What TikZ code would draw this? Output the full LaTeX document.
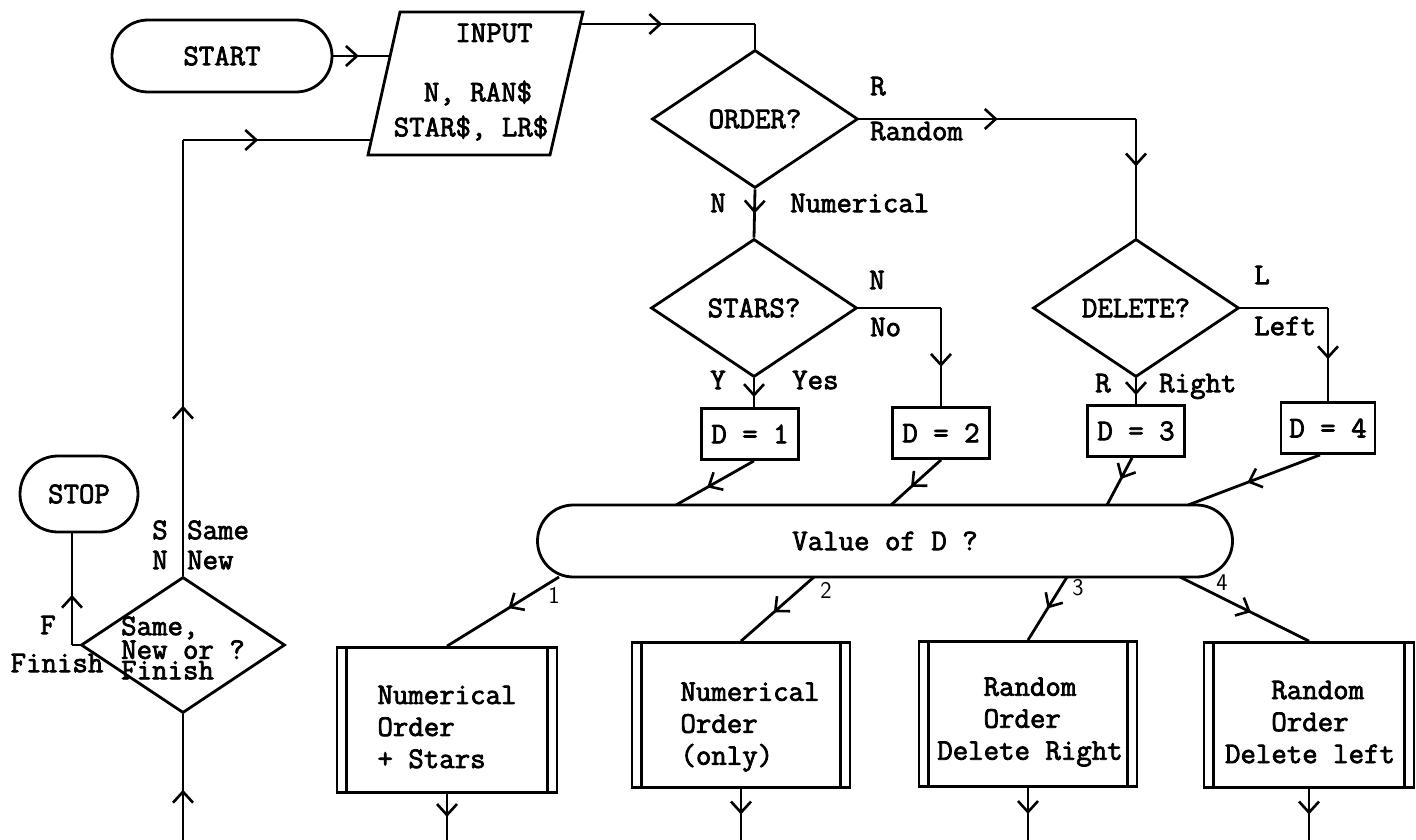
\documentclass[tikz,border=0pt]{standalone}
\usepackage{fontspec}
\newfontfamily\tw{Latin Modern Mono}[FakeBold=2.5]
\usetikzlibrary{shapes.geometric,arrows.meta,decorations.markings}
\tikzset{
  ln/.style={line width=2.8pt},
  midarr/.style={postaction={decorate},decoration={markings,mark=at position #1 with {\arrow{Straight Barb[length=11pt,width=20pt,line width=2.6pt]}}}},
  midarr/.default=0.5,
  term/.style={draw,ln,rounded corners=36pt,inner sep=0pt},
  dia/.style={draw,ln,diamond,inner sep=0pt,minimum width=206pt,minimum height=138pt},
  dbox/.style={draw,ln,rectangle,inner sep=0pt,minimum width=97pt,minimum height=51pt},
  proc/.style={draw,ln,rectangle,inner sep=0pt,minimum height=145pt},
  txt/.style={inner sep=0pt},
  lbl/.style={inner sep=0pt,anchor=mid},
  hand/.style={inner sep=0pt,font=\sffamily\fontsize{24}{24}\selectfont},
}
\begin{document}
\begin{tikzpicture}[x=1pt,y=-1pt,font=\tw\fontsize{30}{32}\selectfont]
\fill[white] (0,0) rectangle (1416,840);
\useasboundingbox (0,0) rectangle (1416,840);

% terminals
\node[term,minimum width=220pt,minimum height=72pt] (start) at (222,56) {START};
\node[term,minimum width=118pt,minimum height=76pt,rounded corners=38pt] (stop) at (79,494) {STOP};

% input parallelogram
\coordinate (iTL) at (400,12);
\coordinate (iTR) at (583,12);
\coordinate (iBR) at (550,155);
\coordinate (iBL) at (368,155);
\draw[ln] (iTL) -- (iTR) -- (iBR) -- (iBL) -- cycle;
\node[txt] (inT) at (494,33) {INPUT};
\node[txt] (inA) at (478,93) {N, RAN\$};
\node[txt] (inB) at (471,128) {STAR\$, LR\$};
\coordinate (inL) at (390,56);
\coordinate (inR) at (580,24);
\coordinate (inLoop) at (371,140);

% decisions
\node[dia] (order) at (755,119) {ORDER?};
\node[dia] (stars) at (754,308) {STARS?};
\node[dia] (del) at (1136,308) {DELETE?};
\node[dia,minimum width=204pt,minimum height=136pt] (sd) at (183,645) {};
\node[txt,align=left,anchor=west,font=\tw\fontsize{30}{20.5}\selectfont] (sdt) at (121,648) {Same,\\New or ?\\Finish};

% D boxes
\node[dbox] (d1) at (750,434) {D = 1};
\node[dbox] (d2) at (941,433) {D = 2};
\node[dbox] (d3) at (1136,431) {D = 3};
\node[dbox,minimum width=94pt] (d4) at (1328,428) {D = 4};

% value of D
\node[term,minimum width=695pt,minimum height=72pt] (val) at (885,541) {Value of D ?};

% process boxes
\node[proc,minimum width=220pt] (p1) at (447,720) {};
\node[proc,minimum width=218pt] (p2) at (741,715) {};
\node[proc,minimum width=218pt] (p3) at (1028,714) {};
\node[proc,minimum width=210pt] (p4) at (1309,715) {};
\foreach \p in {p1,p2,p3,p4} {
  \draw[ln] ([xshift=11pt]\p.north west) -- ([xshift=11pt]\p.south west);
  \draw[ln] ([xshift=-11pt]\p.north east) -- ([xshift=-11pt]\p.south east);
}
\node[txt,align=left] (p1t) at (447,727) {Numerical\\Order\\+ Stars};
\node[txt,align=left] (p2t) at (750,727) {Numerical\\Order\\(only)};
\node[txt,align=left] (p3t) at (1030,722) {\hphantom{xxx}Random\\\hphantom{xxx}Order\\Delete Right};
\node[txt,align=left] (p4t) at (1310,722) {\hphantom{xxx}Random\\\hphantom{xxx}Order\\Delete left};

% connectors top
\draw[ln,midarr=0.45] (start.east) -- (inL);
\coordinate (oT) at (order.north |- inR);
\draw[ln,midarr=0.47] (inR) -- (oT);
\draw[ln] (oT) -- (order.north);
\draw[ln,midarr] (order.south) -- (stars.north);
\coordinate (oR) at (del.north |- order.east);
\draw[ln,midarr] (order.east) -- (oR);
\draw[ln,midarr=0.4] (oR) -- (del.north);
\draw[ln,midarr=0.65] (stars.south) -- (stars.south |- d1.north);
\coordinate (sR) at (d2.north |- stars.east);
\draw[ln] (stars.east) -- (sR);
\draw[ln,midarr=0.6] (sR) -- (d2.north);
\draw[ln,midarr=0.65] (del.south) -- (del.south |- d3.north);
\coordinate (dR) at (d4.north |- del.east);
\draw[ln] (del.east) -- (dR);
\draw[ln,midarr=0.55] (dR) -- (d4.north);

% D boxes to value of D
\coordinate (v1) at (676,505);
\coordinate (v2) at (891,505);
\coordinate (v3) at (1107,505);
\coordinate (v4) at (1188,505);
\draw[ln,midarr=0.6] ([xshift=4pt]d1.south) -- (v1);
\draw[ln,midarr=0.6] (d2.south) -- (v2);
\draw[ln,midarr=0.45] ([xshift=-4pt]d3.south) -- (v3);
\draw[ln,midarr=0.55] ([xshift=-8pt]d4.south) -- (v4);

% value of D to processes
\coordinate (c1) at (559,577);
\coordinate (c2) at (814,577);
\coordinate (c3) at (1067,577);
\coordinate (c4) at (1180,577);
\draw[ln,midarr=0.45] (c1) -- (p1.north);
\draw[ln,midarr=0.55] (c2) -- (p2.north);
\draw[ln,midarr=0.5] (c3) -- (p3.north);
\draw[ln,midarr=0.55] (c4) -- (p4.north);
\node[hand] (n1) at (554,595) {1};
\node[hand] (n2) at (826,590) {2};
\node[hand] (n3) at (1078,588) {3};
\node[hand] (n4) at (1222,583) {4};

% bottom exits
\coordinate (bot) at (0,840);
\foreach \p in {p1,p2,p3,p4} {
  \draw[ln,midarr=0.5] (\p.south) -- (\p.south |- bot);
}

% loop on the left
\coordinate (lb) at (sd.south |- bot);
\draw[ln,midarr=0.4] (lb) -- (sd.south);
\coordinate (lt) at (sd.north |- inLoop);
\draw[ln,midarr=0.39] (sd.north) -- (lt);
\draw[ln,midarr=0.4] (lt) -- (inLoop);
\coordinate (f1) at (72,645);
\draw[ln] (sd.west) -- (f1);
\draw[ln,midarr=0.45] (f1) -- (f1 |- stop.south);

% labels
\node[lbl] (lR1) at (878,93) {R};
\node[lbl,anchor=mid west] (lRand) at (870,138) {Random};
\node[lbl] (lN1) at (718,210) {N};
\node[lbl,anchor=mid west] (lNum) at (790,210) {Numerical};
\node[lbl] (lN2) at (877,287) {N};
\node[lbl,anchor=mid west] (lNo) at (870,334) {No};
\node[lbl] (lY) at (718,387) {Y};
\node[lbl,anchor=mid west] (lYes) at (792,387) {Yes};
\node[lbl] (lL) at (1262,282) {L};
\node[lbl,anchor=mid west] (lLeft) at (1254,333) {Left};
\node[lbl] (lR2) at (1103,390) {R};
\node[lbl,anchor=mid west] (lRight) at (1159,390) {Right};
\node[lbl] (lS) at (160,537) {S};
\node[lbl,anchor=mid west] (lSame) at (187,537) {Same};
\node[lbl] (lN3) at (160,567) {N};
\node[lbl,anchor=mid west] (lNew) at (187,567) {New};
\node[lbl] (lF) at (48,632) {F};
\node[lbl] (lFin) at (57,670) {Finish};
\end{tikzpicture}
\end{document}
